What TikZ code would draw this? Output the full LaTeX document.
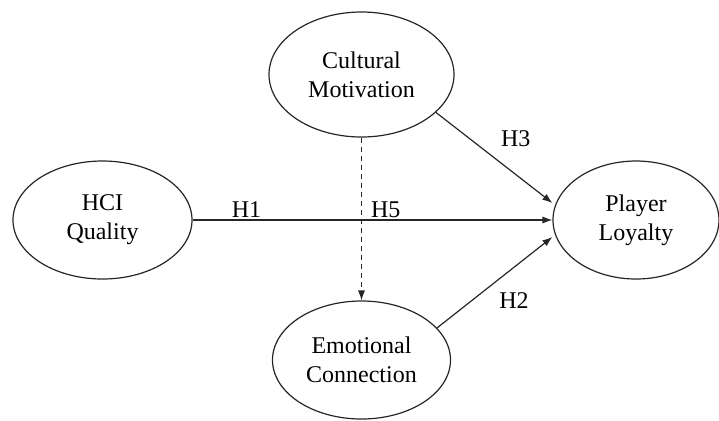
\documentclass[tikz,border=0pt]{standalone}
\usepackage{fontspec}
\setmainfont{Liberation Serif}
\usetikzlibrary{arrows.meta,shapes.geometric}
\begin{document}
\begin{tikzpicture}[x=0.5pt, y=-0.5pt, line width=0.6pt, draw=black!85,
    font=\fontsize{12}{14.4}\selectfont,
    construct/.style={draw, ellipse, inner sep=0pt, align=center},
    link/.style={-{Latex[length=5pt,width=3.6pt]}}]
            \useasboundingbox (0,0) rectangle (719,420);
            % constructs
            \node[construct, minimum width=89.5pt, minimum height=59pt] (HCI) at (102.5,220) {HCI\\Quality};
            \node[construct, minimum width=92.5pt, minimum height=62.5pt] (CM) at (361.5,74.5) {Cultural\\Motivation};
            \node[construct, minimum width=83pt, minimum height=59pt] (PL) at (636,220) {Player\\Loyalty};
            \node[construct, minimum width=89pt, minimum height=59pt] (EC) at (361.5,360) {Emotional\\Connection};

            % hypotheses
            \draw [link] (HCI) -- node[pos=0.15, above, inner sep=1pt] {H1} node[pos=0.537, above, inner sep=1pt] {H5} (PL);
            \draw [link] (CM.-27) -- node[pos=0.52, above right, inner sep=2pt, yshift=4pt] {H3} ([yshift=8.5pt]PL.west);
            \draw [link] (EC.23) -- node[pos=0.5, below right, inner sep=2pt, yshift=-3pt] {H2} ([yshift=-8.5pt]PL.west);
            \draw [link, dash pattern=on 2.5pt off 2pt] (CM.south) -- (EC.north);
\end{tikzpicture}
\end{document}
